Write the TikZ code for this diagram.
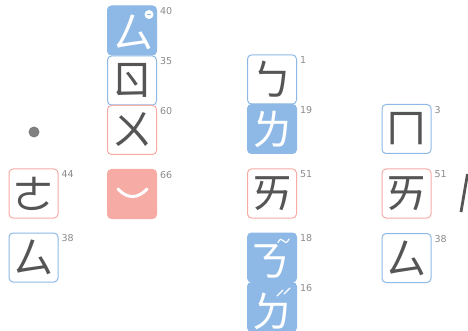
\documentclass[tikz,border=0pt]{standalone}
\usepackage{fontspec}
\newfontfamily\cjk{Noto Sans CJK SC}
\newfontfamily\labfont{DejaVu Sans}
\definecolor{bl}{HTML}{8EB9E6}
\definecolor{pk}{HTML}{F6ABA5}
\definecolor{gl}{HTML}{555555}
\definecolor{lg}{HTML}{8A8A8A}
\begin{document}
\begin{tikzpicture}[x=1pt,y=-1pt,
  box/.style={minimum size=49pt, inner sep=0pt, rounded corners=4pt, line width=1pt},
  wblue/.style={box, draw=bl, fill=white},
  wpink/.style={box, draw=pk, fill=white},
  fblue/.style={box, draw=bl, fill=bl},
  fpink/.style={box, draw=pk, fill=pk},
  gly/.style={inner sep=0pt, font=\cjk\fontsize{42}{42}\selectfont, text=gl},
  wgly/.style={gly, text=white},
  lab/.style={anchor=north west, inner sep=0pt, text=lg, font=\labfont\fontsize{9.5}{9.5}\selectfont},
  wstroke/.style={white, line width=1.2pt, line cap=round}
]
\useasboundingbox (0,0) rectangle (468,331);
% column 1
\fill[gray] (34,132) circle (5.5pt);
\node[wpink] (b44) at (33.5,193.5) {};
\node[wblue] (b38a) at (33.5,257.5) {};
% column 2
\node[fblue] (b40) at (132,30.5) {};
\node[wblue] (b35) at (132,80.5) {};
\node[wpink] (b60) at (132,130) {};
\node[fpink] (b66) at (132,194) {};
% column 3
\node[wblue] (b1) at (272,79.5) {};
\node[fblue] (b19) at (272,129) {};
\node[wpink] (b51a) at (272,193.5) {};
\node[fblue] (b18) at (272,257.5) {};
\node[fblue] (b16) at (272,307) {};
% column 4
\node[wblue] (b3) at (406.5,129) {};
\node[wpink] (b51b) at (406.5,193.5) {};
\node[wblue] (b38b) at (406.5,258) {};
% glyphs
\node[gly] (g44) at (b44) {ㄜ};
\node[gly] (g38a) at (b38a) {ㄙ};
\node[wgly] (g40) at ([xshift=1pt,yshift=-2pt]b40.center) {ㄙ};
\node[gly] (g35) at (b35) {ㄖ};
\node[gly] (g60) at (b60) {ㄨ};
\node[gly] (g1) at (b1) {ㄅ};
\node[wgly] (g19) at (b19) {ㄌ};
\node[gly] (g51a) at (b51a) {ㄞ};
\node[wgly] (g18) at ([xshift=-3pt,yshift=-4pt]b18.center) {ㄋ};
\node[wgly] (g16) at ([yshift=-4pt]b16.center) {ㄉ};
\node[gly] (g3) at (b3) {ㄇ};
\node[gly] (g51b) at (b51b) {ㄞ};
\node[gly] (g38b) at (b38b) {ㄙ};
% labels
\foreach \n/\t in {b44/44,b38a/38,b40/40,b35/35,b60/60,b66/66,b1/1,b19/19,b51a/51,b18/18,b16/16,b3/3,b51b/51,b38b/38}
  \node[lab] (l\n) at ([xshift=3pt,yshift=-2pt]\n.north east) {\t};
% marks
\coordinate (m40) at ([xshift=-8pt,yshift=-9pt]b40.north east);
\fill[white] (m40) circle (4.5pt);
\draw[bl, line width=1.2pt] ([xshift=-2.3pt]m40) -- ([xshift=2.3pt]m40);
\draw[white, line width=3pt, line cap=round] (118,189) .. controls (127,199) and (138,199) .. (147,189);
\draw[wstroke] (278,242.5) .. controls (280,238) and (282,239) .. (283.5,241) .. controls (285,243) and (287,243.5) .. (289,239);
\draw[wstroke] (277,296) -- (283,290);
\draw[wstroke] (284,294) -- (290,288);
% partial glyph at right edge
\draw[gl, line width=2.8pt] (467.5,174) -- (461,212);
\end{tikzpicture}
\end{document}
